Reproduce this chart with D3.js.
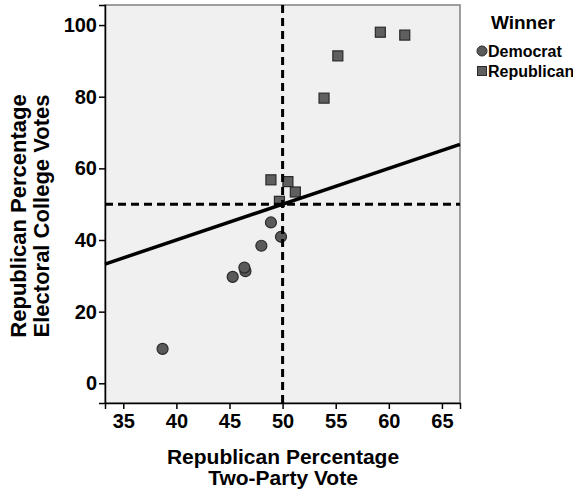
<!DOCTYPE html>
<html>
<head>
<meta charset="utf-8">
<script src="https://cdn.jsdelivr.net/npm/d3@7"></script>
<style>
  body { margin: 0; background: #fff; }
  text { font-family: "Liberation Sans", Arial, sans-serif; font-weight: bold; }
</style>
</head>
<body>
<div id="chart"></div>
<script>
'use strict';

// Democrat winners (circles)
const demVote = [38.7, 45.3, 46.5, 46.4, 48.0, 48.9, 49.85];
const demElectoral = [9.6, 29.7, 31.3, 32.3, 38.4, 44.9, 40.9];
// Republican winners (squares)
const repVote = [59.2, 61.5, 55.2, 53.9, 48.9, 50.5, 51.2, 49.7];
const repElectoral = [98.0, 97.2, 91.4, 79.6, 56.8, 56.3, 53.4, 50.8];

const xTicks = [35, 40, 45, 50, 55, 60, 65];
const yTicks = [0, 20, 40, 60, 80, 100];
const legendLabels = ["Democrat", "Republican"];

const width = 573, height = 491;
const plot = {left: 105, top: 5, right: 460, bottom: 403};

const svg = d3.select("#chart").append("svg")
    .attr("width", width)
    .attr("height", height);

const x = d3.scaleLinear().domain([33.28, 66.7]).range([plot.left, plot.right]);
const y = d3.scaleLinear().domain([-5.5, 105.6]).range([plot.bottom, plot.top]);

// plot background + frame
svg.append("rect")
    .attr("x", plot.left).attr("y", plot.top)
    .attr("width", plot.right - plot.left)
    .attr("height", plot.bottom - plot.top)
    .style("fill", "#f0f0f0")
    .style("stroke", "#808080")
    .style("stroke-width", 1.5);

// points
const dem = demVote.map((v, i) => ({x: v, y: demElectoral[i]}));
const rep = repVote.map((v, i) => ({x: v, y: repElectoral[i]}));
const sq = 10;

svg.append("g").selectAll("rect")
    .data(rep)
    .enter().append("rect")
    .attr("x", d => x(d.x) - sq / 2)
    .attr("y", d => y(d.y) - sq / 2)
    .attr("width", sq).attr("height", sq)
    .style("fill", "#5f5f5f")
    .style("stroke", "#2a2a2a")
    .style("stroke-width", 1.2);

svg.append("g").selectAll("circle")
    .data(dem)
    .enter().append("circle")
    .attr("cx", d => x(d.x))
    .attr("cy", d => y(d.y))
    .attr("r", 5.5)
    .style("fill", "#5a5a5a")
    .style("stroke", "#2a2a2a")
    .style("stroke-width", 1.2);

// reference lines at 50
svg.append("line")
    .attr("x1", plot.left).attr("x2", plot.right)
    .attr("y1", y(50)).attr("y2", y(50))
    .style("stroke", "#000").style("stroke-width", 3)
    .style("stroke-dasharray", "8,5");
svg.append("line")
    .attr("x1", x(50)).attr("x2", x(50))
    .attr("y1", plot.top).attr("y2", plot.bottom)
    .style("stroke", "#000").style("stroke-width", 3)
    .style("stroke-dasharray", "8,5");

// y = x line
const [x0, x1] = x.domain();
svg.append("line")
    .attr("x1", x(x0)).attr("y1", y(x0))
    .attr("x2", x(x1)).attr("y2", y(x1))
    .style("stroke", "#000").style("stroke-width", 3.5);

// axes
const xAxis = svg.append("g")
    .attr("transform", `translate(0,${plot.bottom})`)
    .call(d3.axisBottom(x).tickValues(xTicks).tickSize(6).tickPadding(5));
const yAxis = svg.append("g")
    .attr("transform", `translate(${plot.left},0)`)
    .call(d3.axisLeft(y).tickValues(yTicks).tickSize(6).tickPadding(2));

[xAxis, yAxis].forEach(a => {
    a.select(".domain").style("stroke", "#000").style("stroke-width", 1.5);
    a.selectAll(".tick line").style("stroke", "#000").style("stroke-width", 1.5);
    a.selectAll("text")
        .style("font-size", "20px")
        .style("fill", "#000");
});

// axis titles
const xTitle = svg.append("text")
    .attr("text-anchor", "middle")
    .style("font-size", "21px");
xTitle.append("tspan").attr("x", 283).attr("y", 464).text("Republican Percentage");
xTitle.append("tspan").attr("x", 283).attr("y", 485).text("Two-Party Vote");

const yTitle = svg.append("text")
    .attr("text-anchor", "middle")
    .attr("transform", "translate(0,216) rotate(-90)")
    .style("font-size", "22px");
yTitle.append("tspan").attr("x", 0).attr("y", 26).text("Republican Percentage");
yTitle.append("tspan").attr("x", 0).attr("y", 49).text("Electoral College Votes");

// legend
const legend = svg.append("g");
legend.append("text")
    .attr("x", 523).attr("y", 29)
    .attr("text-anchor", "middle")
    .style("font-size", "19px")
    .text("Winner");

legend.append("circle")
    .attr("cx", 482).attr("cy", 51).attr("r", 5)
    .style("fill", "#5a5a5a").style("stroke", "#2a2a2a").style("stroke-width", 1);
legend.append("rect")
    .attr("x", 477.5).attr("y", 66.5).attr("width", 9).attr("height", 9)
    .style("fill", "#5f5f5f").style("stroke", "#2a2a2a").style("stroke-width", 1);

legend.selectAll(".lbl")
    .data(legendLabels)
    .enter().append("text")
    .attr("class", "lbl")
    .attr("x", 488)
    .attr("y", (d, i) => 57 + i * 20)
    .style("font-size", "16px")
    .text(d => d);
</script>
</body>
</html>
